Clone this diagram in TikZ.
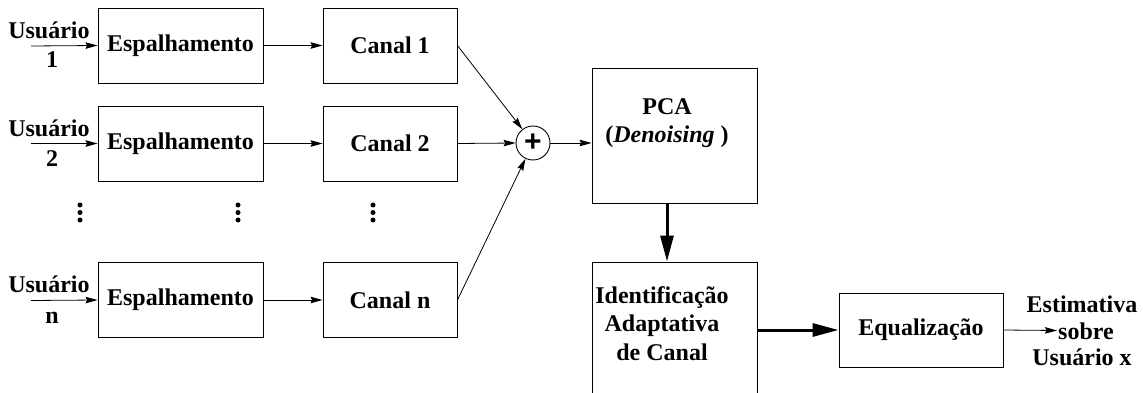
\documentclass[tikz,border=0pt]{standalone}
\usepackage{fontspec}
\setmainfont{Liberation Serif}
\newfontfamily\plusfont{Liberation Sans}
\usetikzlibrary{arrows.meta}
\tikzset{
  txt/.style={font=\fontsize{24}{28.5}\selectfont\bfseries, inner sep=0pt, align=center},
  blk/.style={draw, line width=0.9pt, txt, minimum height=75pt},
  spread/.style={blk, minimum width=165pt},
  canal/.style={blk, minimum width=134pt},
  thin/.style={line width=0.8pt, -{Stealth[length=12pt,width=6.5pt,inset=1.5pt]}},
  thick/.style={line width=3pt, -{Triangle[length=26pt,width=13pt]}},
  dotsym/.style={circle, fill, inner sep=0pt, minimum size=5pt},
}
\begin{document}
\begin{tikzpicture}[x=1pt,y=-1pt]
\useasboundingbox (0,0) rectangle (1143,393);
\clip (0,0) rectangle (1143,393);
% rows
\node[spread] (e1) at (180.5,45.5) {Espalhamento};
\node[spread] (e2) at (180.5,143.5) {Espalhamento};
\node[spread] (en) at (180.5,300) {Espalhamento};
\node[canal] (c1) at (390,45.5) {Canal 1};
\node[canal] (c2) at (390,143.5) {Canal 2};
\node[canal] (cn) at (390,300) {Canal n};
% user labels
\node[txt, anchor=base] (u1) at (49,39) {Usuário};
\node[txt, anchor=base] (n1) at (52,68) {1};
\node[txt, anchor=base] (u2) at (49,137) {Usuário};
\node[txt, anchor=base] (n2) at (52,167) {2};
\node[txt, anchor=base] (un) at (49,292) {Usuário};
\node[txt, anchor=base] (nn) at (52,323) {n};
\coordinate (i1) at (31,46);
\coordinate (i2) at (31,143.5);
\coordinate (in) at (31,300.5);
\draw[thin] (i1) -- (e1.west);
\draw[thin] (i2) -- (e2.west);
\draw[thin] (in) -- (en.west);
\draw[thin] (e1) -- (c1);
\draw[thin] (e2) -- (c2);
\draw[thin] (en) -- (cn);
% dots
\foreach \x/\nm in {80/a,238/b,373/c}{
  \node[dotsym] (d\nm1) at (\x,205) {};
  \node[dotsym] (d\nm2) at (\x,212.5) {};
  \node[dotsym] (d\nm3) at (\x,220) {};
}
% sum
\node[draw, circle, line width=0.9pt, minimum size=34pt, inner sep=0pt, font=\plusfont\fontsize{30}{30}\selectfont\bfseries] (sum) at (533,143) {+};
\draw[thin] (c1.east) -- (sum);
\draw[thin] (c2.east) -- (sum.west);
\draw[thin] (cn.east) -- (sum);
% PCA
\node[draw, line width=0.9pt, minimum width=165pt, minimum height=135pt] (pca) at (674.5,135.5) {};
\node[txt] (pcat) at (667,123) {PCA\\(\textit{Denoising} )};
\draw[thin] (sum.east) -- (pca.west |- sum.east);
% Identificacao
\node[draw, line width=0.9pt, minimum width=165pt, minimum height=170pt] (ident) at (674.5,347) {};
\node[txt] (identt) at (662,323.5) {Identificação\\Adaptativa\\de Canal};
\draw[thick] (pca.south -| 667,0) -- (ident.north -| 667,0);
% Equalizacao
\node[blk, minimum width=164pt, minimum height=74pt] (eq) at (921,330) {Equalização};
\draw[thick] (ident.east |- eq.west) -- (eq.west);
\coordinate (outend) at (1057,330.5);
\draw[thin] (eq.east) -- (outend);
\node[txt, font=\fontsize{24}{26.5}\selectfont\bfseries] (est) at (1082,331) {Estimativa\\\hspace*{8pt}sobre\\Usuário x};
\end{tikzpicture}
\end{document}
